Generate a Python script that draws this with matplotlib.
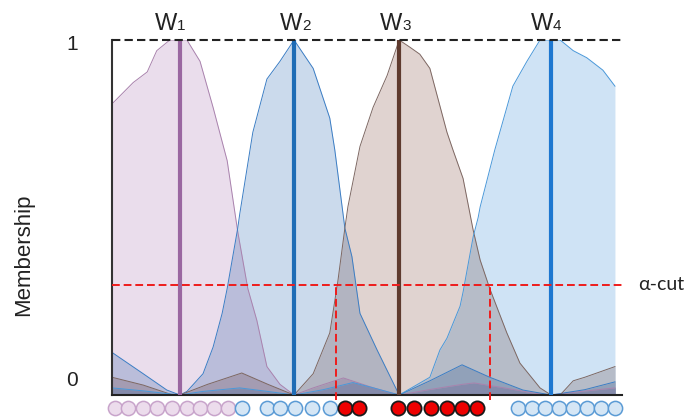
import itertools

import matplotlib
matplotlib.use("Agg")
import matplotlib.pyplot as plt
import numpy as np

plt.rcParams['font.family'] = ['Liberation Sans', 'DejaVu Sans']

# ---- data ----
clusters = ['1', '2', '3', '4']
centers = [13.5, 36.2, 57.1, 87.3]

w1_x = [0, 4.2, 7.0, 8.9, 11.5, 13.5, 14.9, 17.5, 20.1, 22.9, 25.0, 27.0, 28.8, 30.8, 33.4, 36.2,
        40.0, 46.0, 52.0, 57.1, 63.0, 69.6, 72.0, 78.0, 84.0, 87.3, 92.0, 100]
w1_y = [0.82, 0.88, 0.91, 0.97, 1.0, 1.0, 1.0, 0.94, 0.81, 0.66, 0.46, 0.30, 0.21, 0.08, 0.03, 0.0,
        0.02, 0.048, 0.02, 0.0, 0.015, 0.03, 0.034, 0.02, 0.005, 0.0, 0.008, 0.02]

w2_x = [0, 6.2, 10.9, 13.5, 14.9, 18.1, 20.1, 21.9, 22.9, 25.0, 25.4, 28.0, 30.8, 33.4, 36.2,
        40.0, 43.3, 44.3, 46.3, 47.7, 49.3, 52.7, 57.1, 63.2, 69.6, 75.1, 81.7, 87.3, 94.0, 100]
w2_y = [0.12, 0.06, 0.014, 0.0, 0.01, 0.06, 0.135, 0.23, 0.30, 0.47, 0.51, 0.74, 0.89, 0.94, 1.0,
        0.92, 0.78, 0.69, 0.47, 0.39, 0.23, 0.127, 0.0, 0.04, 0.085, 0.05, 0.014, 0.0, 0.015, 0.037]

w3_x = [0, 6.2, 12.1, 13.5, 19.0, 25.8, 31.0, 36.2, 40.0, 43.3, 44.9, 46.3, 46.9, 49.3, 51.9, 54.7,
        57.1, 59.2, 61.2, 63.2, 66.6, 67.8, 69.8, 71.8, 73.2, 75.1, 78.5, 81.1, 85.1, 87.3, 89.1,
        91.7, 94.0, 100]
w3_y = [0.05, 0.028, 0.0, 0.0, 0.03, 0.062, 0.03, 0.0, 0.06, 0.175, 0.32, 0.47, 0.53, 0.70, 0.81, 0.90,
        1.0, 0.98, 0.96, 0.92, 0.74, 0.69, 0.61, 0.465, 0.38, 0.30, 0.175, 0.09, 0.02, 0.0, 0.0,
        0.04, 0.05, 0.08]

w4_x = [0, 6.0, 13.5, 18.0, 25.4, 31.0, 36.2, 42.0, 47.9, 52.0, 57.1, 63.2, 65.2, 66.6, 69.2, 69.8,
        71.8, 72.8, 73.2, 76.1, 79.7, 82.5, 85.1, 87.3, 89.1, 91.7, 94.4, 97.6, 100]
w4_y = [0.02, 0.012, 0.0, 0.01, 0.02, 0.01, 0.0, 0.015, 0.035, 0.02, 0.0, 0.05, 0.127, 0.16, 0.25, 0.29,
        0.445, 0.50, 0.53, 0.69, 0.87, 0.94, 1.0, 1.0, 1.0, 0.97, 0.95, 0.915, 0.87]

alpha_cut = 0.31
cut_bounds = [44.5, 75.1]

# samples under the axis
pink_pts = [0.6, 3.2, 6.2, 8.9, 11.9, 14.9, 17.5, 20.3, 23.1]
blue_pts = [25.8, 30.8, 33.4, 36.4, 39.8, 43.3, 80.7, 83.5, 86.1, 88.9, 91.6, 94.4, 97.2, 100.0]
red_pts = [46.3, 49.1, 56.9, 60.0, 63.4, 66.6, 69.6, 72.6]

# ---- styles ----
fill_rgb = [(234, 221, 236), (203, 218, 236), (224, 211, 208), (207, 227, 245)]
edge_colors = ['#a982ad', '#3b7dc4', '#7d6762', '#4a98d9']
center_colors = ['#9a67a1', '#1f6cb5', '#5e3a2e', '#1d77d0']
label_shift = [-0.6, 1.6, 0.6, 0.4]


def multiply(rgbs):
    """颜色相乘（模拟正片叠底）"""
    c = np.array([255.0, 255.0, 255.0])
    for rgb in rgbs:
        c = c * np.array(rgb) / 255.0
    return c / 255.0


fig = plt.figure(figsize=(6.92, 4.19), dpi=100)
ax = fig.add_axes([112 / 692, 24 / 419, 510 / 692, 355 / 419])
ax.set_xlim(0, 101.4)
ax.set_ylim(0, 1)

curves_x = [w1_x, w2_x, w3_x, w4_x]
curves_y = [w1_y, w2_y, w3_y, w4_y]
xg = np.linspace(0, 100, 2001)
yg = [np.interp(xg, cx, cy) for cx, cy in zip(curves_x, curves_y)]

# 重叠区域：按子集大小依次填充，得到相乘的颜色
for k in range(1, 5):
    for sub in itertools.combinations(range(4), k):
        top = np.min([yg[i] for i in sub], axis=0)
        col = multiply([fill_rgb[i] for i in sub])
        ax.fill_between(xg, 0, top, color=col, lw=0, zorder=1)

for cx, cy, ec in zip(curves_x, curves_y, edge_colors):
    ax.plot(cx, cy, color=ec, lw=0.7, zorder=2)

ax.vlines(centers, 0, 1, colors=center_colors, lw=3, zorder=3)

# 顶部虚线 和 alpha-cut
ax.axhline(1, color='#222222', lw=1.5, ls=(0, (4, 2)), zorder=4, clip_on=False)
ax.axhline(alpha_cut, color='#ee1c1c', lw=1.4, ls=(0, (4, 2)), zorder=5)
ax.vlines(cut_bounds, -0.015, alpha_cut, colors='#ee1c1c', lw=1.4, linestyles=[(0, (4, 2))],
          zorder=5, clip_on=False)
ax.text(104.6, alpha_cut, 'α-cut', fontsize=14, va='center', ha='left',
        family=['Lato', 'DejaVu Sans'], color='#222222', clip_on=False)

# 聚类中心标签
for c, lab, dx in zip(centers, clusters, label_shift):
    ax.text(c + dx, 1.028, 'W', fontsize=17, ha='right', va='baseline', color='#222222')
    ax.text(c + dx, 1.028, lab, fontsize=11, ha='left', va='baseline', color='#222222')

# 样本点
y_pts = -0.037
ax.scatter(pink_pts, [y_pts] * len(pink_pts), s=105, facecolor='#ecdcec', edgecolor='#c8a4cb',
           lw=1.1, clip_on=False, zorder=6)
ax.scatter(blue_pts, [y_pts] * len(blue_pts), s=105, facecolor='#d5e6f5', edgecolor='#5b9bd5',
           lw=1.1, clip_on=False, zorder=6)
ax.scatter(red_pts, [y_pts] * len(red_pts), s=105, facecolor='#ee0000', edgecolor='#1a1a1a',
           lw=1.3, clip_on=False, zorder=6)

# 坐标轴
for s in ['top', 'right']:
    ax.spines[s].set_visible(False)
ax.spines['left'].set_color('#333333')
ax.spines['left'].set_linewidth(1.5)
ax.spines['bottom'].set_color('#222222')
ax.spines['bottom'].set_linewidth(1.5)
ax.set_xticks([])
ax.set_yticks([])
ax.text(-8.0, 0.986, '1', fontsize=15, ha='center', va='center', color='#222222')
ax.text(-8.0, 0.042, '0', fontsize=15, ha='center', va='center', color='#222222')
ax.text(-17.6, 0.394, 'Membership', fontsize=16, rotation=90, ha='center', va='center',
        color='#222222')

fig.savefig('out.png', dpi=100)
